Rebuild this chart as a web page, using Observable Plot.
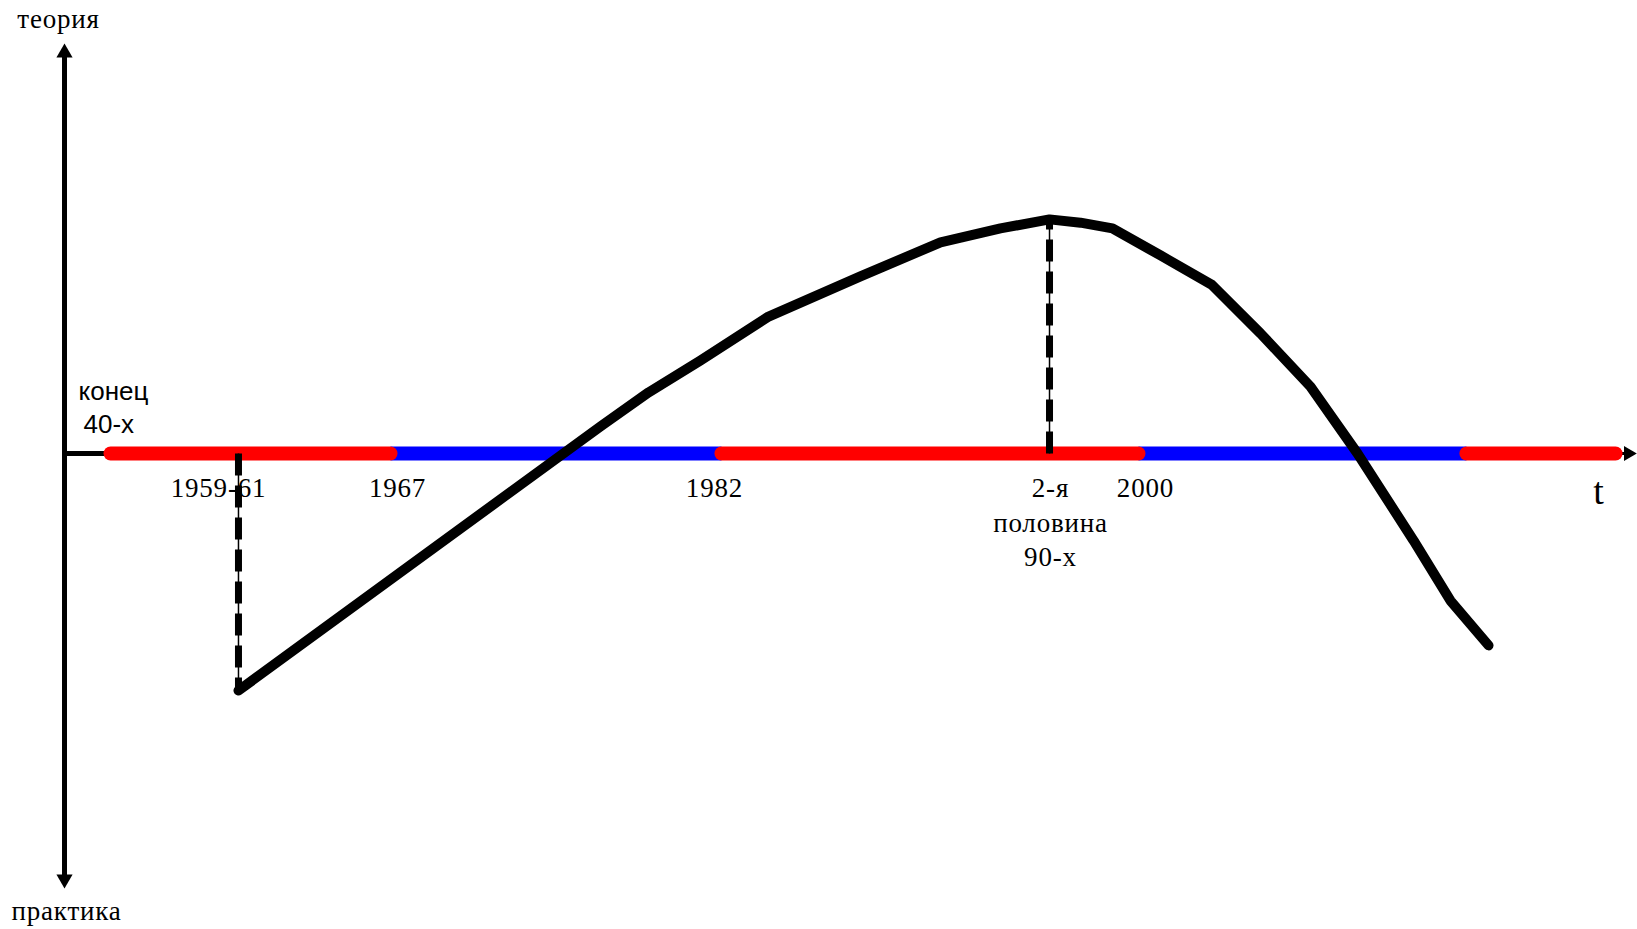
<!DOCTYPE html>
<html><head><meta charset="utf-8">
<script src="https://cdn.jsdelivr.net/npm/d3@7"></script>
<script src="https://cdn.jsdelivr.net/npm/@observablehq/plot@0.6"></script>
<style>html,body{margin:0;padding:0;background:#fff;overflow:hidden}</style>
</head><body><div id="chart"></div>
<script>
// Units: x = time axis (0 = vertical axis, 100 = right edge), y = theory (+) / practice (-)
const curveX = [11.06, 34.07, 37.13, 40.43, 44.76, 50.60, 55.69, 59.50, 62.62, 64.59, 66.62, 69.68, 72.92, 76.03, 79.21, 82.20, 85.76, 88.11, 90.53];
const curveY = [-57.8, 6.6, 14.9, 22.7, 33.4, 43.2, 51.5, 54.9, 57.1, 56.3, 54.9, 48.3, 41.2, 29.3, 16.3, 0, -21.2, -35.9, -46.8];

const periodBounds = [2.48, 21.17, 41.32, 68.72, 88.68, 99.05];
const periodColors = ["#ff0000", "#0000ff", "#ff0000", "#0000ff", "#ff0000"];

const tickLabels = ["1959-61", "1967", "1982", "2-я\nполовина\n90-х", "2000"];
const tickX = [9.79, 21.17, 41.32, 62.68, 68.72];

const dropX = [11.06, 62.62];
const dropY = [-57.8, 57.1];

const startLabels = ["конец", "40-х"];
const startLabelX = [0.89, 1.21];
const startLabelY = [12.93, 4.88];

const axisLabels = ["теория", "практика"];
const axisLabelX = [-0.38, 0.13];
const axisLabelY = [103.9, -113.9];

const timeLabel = "t";
const timeLabelX = 97.52;
const timeLabelY = -12.2;

const axisTop = 100, axisBottom = -106.1, axisRight = 100;

// layout
const W = 1637, H = 929;
const xDomain = [-4.069, 100];
const yDomain = [-116.1, 110.49];
const pxPerX = W / (xDomain[1] - xDomain[0]);
const pxPerY = H / (yDomain[1] - yDomain[0]);
const capU = 7 / pxPerX;
const tipX = 9.24 / pxPerX, tipY = 9.24 / pxPerY;

const periods = periodColors.map((c, i) => ({x1: periodBounds[i], x2: periodBounds[i + 1], c}));
const blue = periods.filter(d => d.c === "#0000ff").map(d => ({...d, x1: d.x1 - capU, x2: d.x2 + capU}));
const red = periods.filter(d => d.c === "#ff0000").map(d => ({...d, x1: d.x1 + capU, x2: d.x2 - capU}));
const curve = curveX.map((x, i) => ({x, y: curveY[i]}));
const ticks = tickLabels.map((t, i) => ({t, x: tickX[i]}));
const drops = dropX.map((x, i) => ({x, y: dropY[i]}));
const starts = startLabels.map((t, i) => ({t, x: startLabelX[i], y: startLabelY[i]}));
const axl = axisLabels.map((t, i) => ({t, x: axisLabelX[i], y: axisLabelY[i]}));

const serif = "'Liberation Serif', 'Times New Roman', serif";
const sans = "'Liberation Sans', Arial, sans-serif";

const chart = Plot.plot({
  width: W, height: H, margin: 0,
  x: {domain: xDomain, axis: null},
  y: {domain: yDomain, axis: null},
  style: {background: "#fff"},
  marks: [
    // vertical axis
    Plot.link([0], {x1: () => 0, x2: () => 0, y1: () => axisTop - tipY, y2: () => axisBottom + tipY, stroke: "#000", strokeWidth: 5}),
    Plot.dot([0], {x: () => 0, y: () => axisTop - tipY, symbol: "triangle", r: 6, fill: "#000", rotate: 0}),
    Plot.dot([0], {x: () => 0, y: () => axisBottom + tipY, symbol: "triangle", r: 6, fill: "#000", rotate: 180}),
    // horizontal stub + arrow
    Plot.link([0], {x1: () => 0, x2: () => periodBounds[0] + capU, y1: () => 0, y2: () => 0, stroke: "#000", strokeWidth: 5}),
    Plot.link([0], {x1: () => periodBounds[5] - capU, x2: () => axisRight - tipX, y1: () => 0, y2: () => 0, stroke: "#000", strokeWidth: 3}),
    Plot.dot([0], {x: () => axisRight - tipX, y: () => 0, symbol: "triangle", r: 5.5, fill: "#000", rotate: 90}),
    // period bands
    Plot.link(blue, {x1: "x1", x2: "x2", y1: () => 0, y2: () => 0, stroke: "c", strokeWidth: 14}),
    Plot.link(red, {x1: "x1", x2: "x2", y1: () => 0, y2: () => 0, stroke: "c", strokeWidth: 14, strokeLinecap: "round"}),
    // labels
    Plot.text(ticks, {x: "x", y: () => -4.7, text: "t", fontFamily: serif, fontSize: 27, lineAnchor: "top", lineHeight: 1.28, fill: "#000", style: {letterSpacing: "0.8px"}}),
    Plot.text([0], {x: () => timeLabelX, y: () => timeLabelY, text: () => timeLabel, fontFamily: serif, fontSize: 38, lineAnchor: "bottom", fill: "#000"}),
    Plot.text(starts, {x: "x", y: "y", text: "t", fontFamily: sans, fontSize: 26, textAnchor: "start", lineAnchor: "bottom", fill: "#000"}),
    Plot.text(axl, {x: "x", y: "y", text: "t", fontFamily: serif, fontSize: 27, lineAnchor: "bottom", fill: "#000", style: {letterSpacing: "0.8px"}}),
    // dashed drops
    Plot.link(drops, {x1: "x", x2: "x", y1: () => 0, y2: "y", stroke: "#000", strokeWidth: 1.5}),
    Plot.link(drops, {x1: "x", x2: "x", y1: () => 0, y2: "y", stroke: "#000", strokeWidth: 7, strokeDasharray: "22,10"}),
    // curve
    Plot.line(curve, {x: "x", y: "y", stroke: "#000", strokeWidth: 10, strokeLinejoin: "round", strokeLinecap: "round"})
  ]
});
chart.querySelectorAll("text").forEach(t => t.style.letterSpacing = t.closest("g")?.getAttribute("font-size") === "27" ? "0.8px" : "");
document.getElementById("chart").appendChild(chart);
</script>
</body></html>
